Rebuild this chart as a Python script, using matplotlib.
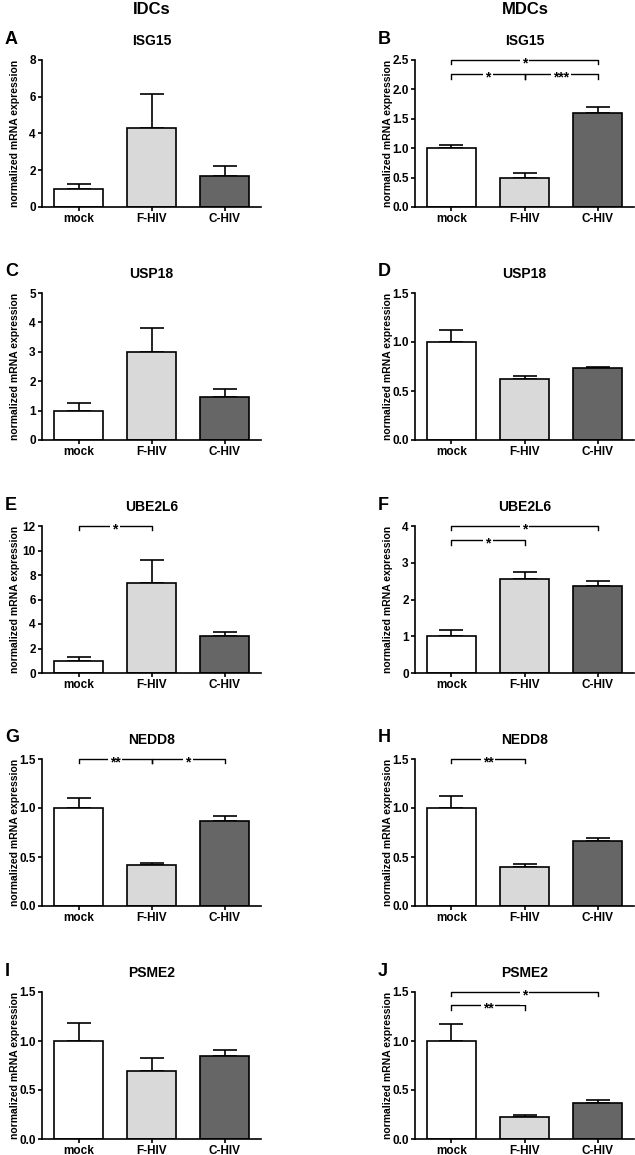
import numpy as np
import matplotlib
matplotlib.use('Agg')
import matplotlib.pyplot as plt
from matplotlib.ticker import MultipleLocator, FormatStrFormatter

plt.rcParams['font.family'] = ['Liberation Sans', 'DejaVu Sans']
plt.rcParams['font.weight'] = 'bold'
plt.rcParams['axes.titleweight'] = 'bold'
plt.rcParams['axes.labelweight'] = 'bold'

# 데이터
groups = ['mock', 'F-HIV', 'C-HIV']
genes = ['ISG15', 'USP18', 'UBE2L6', 'NEDD8', 'PSME2']
bar_colors = ['#ffffff', '#d9d9d9', '#666666']

idc_mean = [[1.0, 4.3, 1.7], [1.0, 3.0, 1.45], [1.0, 7.35, 3.0], [1.0, 0.42, 0.87], [1.0, 0.69, 0.85]]
idc_err = [[0.27, 1.85, 0.55], [0.25, 0.8, 0.3], [0.3, 1.9, 0.35], [0.1, 0.02, 0.05], [0.18, 0.14, 0.06]]
idc_ymax = [8, 5, 12, 1.5, 1.5]
idc_step = [2, 1, 2, 0.5, 0.5]

mdc_mean = [[1.0, 0.5, 1.6], [1.0, 0.62, 0.73], [1.0, 2.57, 2.37], [1.0, 0.40, 0.66], [1.0, 0.22, 0.37]]
mdc_err = [[0.06, 0.07, 0.1], [0.12, 0.03, 0.02], [0.17, 0.17, 0.12], [0.12, 0.03, 0.03], [0.17, 0.03, 0.03]]
mdc_ymax = [2.5, 1.5, 4, 1.5, 1.5]
mdc_step = [0.5, 0.5, 1, 0.5, 0.5]

# 유의성 표시: (x1, x2, y, 별표)
idc_sig = [[], [], [(0, 1, 12, '*')], [(0, 1, 1.5, '**'), (1, 2, 1.5, '*')], []]
mdc_sig = [[(0, 2, 2.5, '*'), (0, 1, 2.26, '*'), (1, 2, 2.26, '***')],
           [],
           [(0, 2, 4.0, '*'), (0, 1, 3.61, '*')],
           [(0, 1, 1.5, '**')],
           [(0, 2, 1.5, '*'), (0, 1, 1.365, '**')]]

letters_left = ['A', 'C', 'E', 'G', 'I']
letters_right = ['B', 'D', 'F', 'H', 'J']

W, H = 635, 1155
fig = plt.figure(figsize=(W / 100, H / 100), dpi=100)


def bracket(ax, x1, x2, y, label, ymax):
    h = ymax * 0.03
    ax.plot([x1, x1, x2, x2], [y - h, y, y, y - h], color='black', lw=1.0, clip_on=False)
    ax.annotate(label, xy=((x1 + x2) / 2, y), xytext=(0, -2.5), textcoords='offset points',
                ha='center', va='center', fontsize=10, fontweight='bold',
                bbox=dict(facecolor='white', edgecolor='none', pad=1.5))


def panel(left, top, gene, letter, mean, err, ymax, step, sigs):
    ax = fig.add_axes([left / W, 1 - (top + 147) / H, 219 / W, 147 / H])
    x = np.arange(len(groups))
    ax.bar(x, mean, width=0.67, color=bar_colors, edgecolor='black', linewidth=1.2, zorder=2)
    ax.errorbar(x, mean, yerr=[np.zeros(3), err], fmt='none', ecolor='black',
                elinewidth=1.2, capsize=8.5, capthick=1.2, zorder=1)
    ax.set_xlim(-0.5, 2.5)
    ax.set_ylim(0, ymax)
    ax.yaxis.set_major_locator(MultipleLocator(step))
    ax.yaxis.set_major_formatter(FormatStrFormatter('%.1f' if step < 1 else '%d'))
    ax.set_xticks(x)
    ax.set_xticklabels(groups)
    ax.tick_params(labelsize=8.5, width=1.2, length=3, pad=1.5)
    for s in ['top', 'right']:
        ax.spines[s].set_visible(False)
    for s in ['left', 'bottom']:
        ax.spines[s].set_linewidth(1.2)
    ax.set_ylabel('normalized mRNA expression', fontsize=7.5)
    ax.yaxis.set_label_coords(-0.1, 0.5)
    ax.set_title(gene, fontsize=10, pad=11)
    for x1, x2, y, lab in sigs:
        bracket(ax, x1, x2, y, lab, ymax)
    fig.text((left - 37) / W, 1 - (top - 21) / H, letter, fontsize=13, ha='left', va='center')
    return ax


for i, gene in enumerate(genes):
    top = 60 + 233 * i
    panel(42, top, gene, letters_left[i], idc_mean[i], idc_err[i], idc_ymax[i], idc_step[i], idc_sig[i])
    panel(415, top, gene, letters_right[i], mdc_mean[i], mdc_err[i], mdc_ymax[i], mdc_step[i], mdc_sig[i])

fig.text(152 / W, 1 - 9 / H, 'IDCs', fontsize=12, ha='center', va='center')
fig.text(525 / W, 1 - 9 / H, 'MDCs', fontsize=12, ha='center', va='center')

fig.savefig('out.png', dpi=100)
